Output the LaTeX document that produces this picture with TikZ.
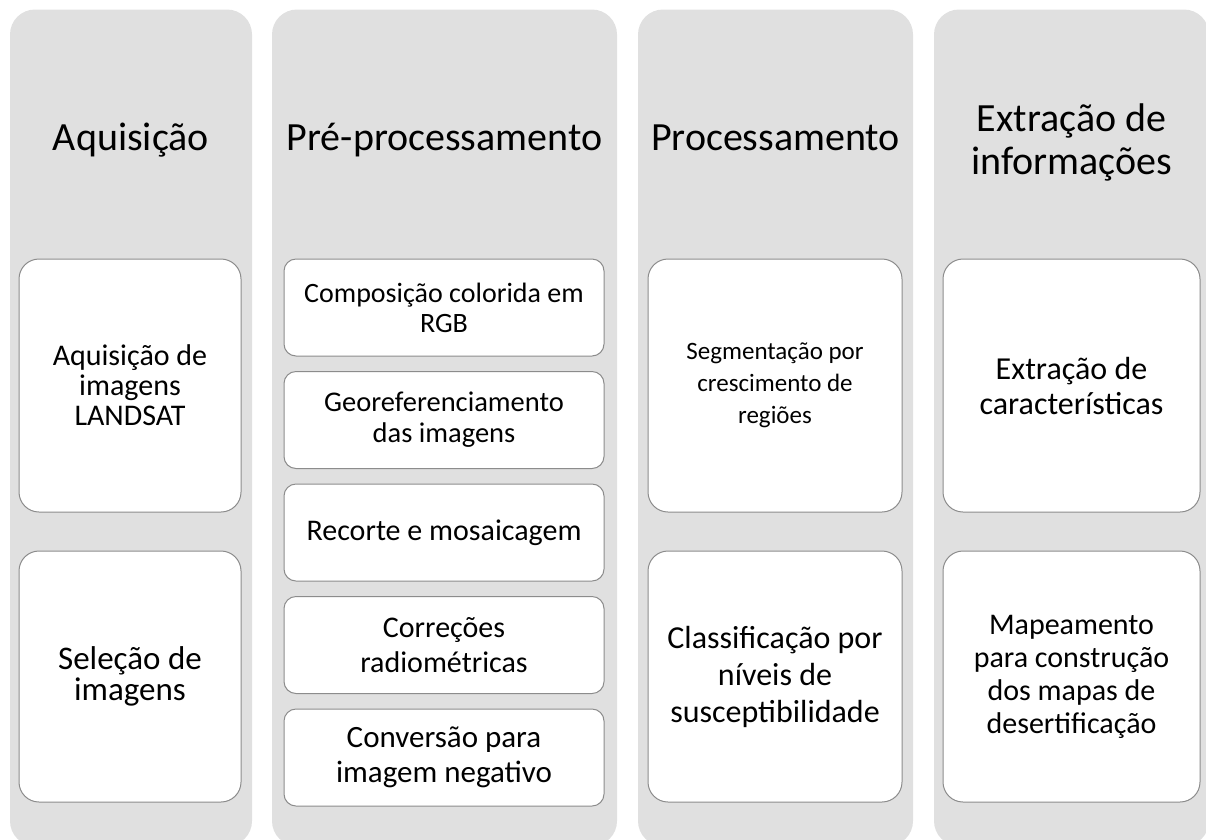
\documentclass[tikz,border=0pt]{standalone}
\usepackage{fontspec}
\setmainfont{Carlito}
\usetikzlibrary{positioning}
\definecolor{colgray}{HTML}{E0E0E0}
\definecolor{boxgray}{HTML}{8C8C8C}
\tikzset{%
  column/.style={fill=colgray,rounded corners=25pt},
  stage/.style={font=\fontsize{40}{43}\selectfont,align=center,inner sep=0pt},
  txt/.style 2 args={font=\fontsize{#1}{#2}\selectfont},
  task/.style={draw=boxgray,fill=white,line width=1pt,align=center,
    inner sep=0pt,rounded corners=20pt},
  subtask/.style={task,rounded corners=12pt,minimum width=320pt,
    minimum height=97pt}%
}
\begin{document}
\begin{tikzpicture}[x=1pt,y=-1pt]
%% page
\useasboundingbox (0,0) rectangle (1206,839);

%% the four columns
\fill[column] (10,9.5) rectangle (252,846);
\fill[column] (272,9.5) rectangle (617,846);
\fill[column] (638,9.5) rectangle (913,846);
\fill[column] (934,9.5) rectangle (1209,846);

%% stage titles
\node[stage,anchor=base] (aquis) at (131,150) {Aquisição};
\node[stage,anchor=base] (prepro) at (444.5,150) {Pré-processamento};
\node[stage,anchor=base] (proc) at (775.5,150) {Processamento};
\node[stage] (extr) at (1071.5,142) {Extração de\\informações};

%% first column
\node[task,txt={30}{30},minimum width=222pt,minimum height=253pt] (landsat)
  at (130,385.5) {Aquisição de\\imagens\\LANDSAT};
\node[task,txt={33}{31},minimum width=222pt,minimum height=251pt] (selecao)
  at (130,676.5) {Seleção de\\imagens};

%% second column
\node[subtask,txt={28}{30}] (rgb) at (444,307.5) {Composição colorida em\\RGB};
\node[subtask,txt={28.5}{31},below=14.5pt of rgb] (georef)
  {Georeferenciamento\\das imagens};
\node[subtask,txt={30}{32},below=14.5pt of georef] (recorte)
  {Recorte e mosaicagem};
\node[subtask,txt={30}{35},below=14.5pt of recorte] (correc)
  {Correções\\radiométricas};
\node[subtask,txt={31}{35},below=14.5pt of correc] (negat)
  {Conversão para\\imagem negativo};

%% third column
\node[task,txt={25}{32},minimum width=254pt,minimum height=253pt] (segm)
  at (775,385.5) {Segmentação por\\crescimento de\\regiões};
\node[task,txt={32}{37},minimum width=254pt,minimum height=251pt] (classif)
  at (775,676.5) {Classificação por\\níveis de\\susceptibilidade};

%% fourth column
\node[task,txt={32}{35},minimum width=257pt,minimum height=253pt] (caract)
  at (1071.5,385.5) {Extração de\\características};
\node[task,txt={30}{33},minimum width=257pt,minimum height=251pt] (mapas)
  at (1071.5,676.5) {Mapeamento\\para construção\\dos mapas de\\desertificação};

\end{tikzpicture}
\end{document}
